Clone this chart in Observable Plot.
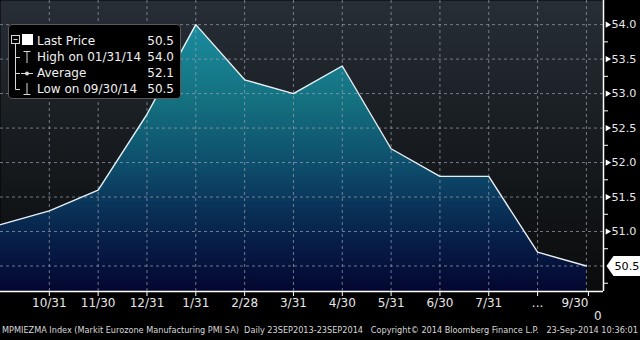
<!DOCTYPE html>
<html>
<head>
<meta charset="utf-8">
<script src="https://cdn.jsdelivr.net/npm/d3@7"></script>
<script src="https://cdn.jsdelivr.net/npm/@observablehq/plot@0.6"></script>
<style>
  html, body { margin: 0; padding: 0; background: #000; }
  body { width: 640px; height: 340px; position: relative; overflow: hidden; font-family: "DejaVu Sans", sans-serif; }
  #chart svg { display: block; }
  #legend { position: absolute; left: 8px; top: 24px; width: 173px; height: 75px; background: #000; border: 1px solid #5a5a5a; border-radius: 4px; box-sizing: border-box; color: #f0f0f0; font-size: 12px; }
  #legend .row { position: absolute; left: 28px; right: 6px; height: 16px; line-height: 16px; }
  #legend .row .v { position: absolute; right: 0; top: 0; }
  #legend svg.icons { position: absolute; left: 0; top: 0; }
  #footer { position: absolute; left: 2px; top: 325px; white-space: pre; color: #d8d8d8; font-size: 8.8px; font-family: "DejaVu Sans Condensed", "DejaVu Sans", sans-serif; transform-origin: 0 0; }
  #zero { position: absolute; left: 594px; top: 309px; color: #e0e0e0; font-size: 12px; }
</style>
</head>
<body>
<div id="chart"></div>
<div id="legend"></div>
<div id="zero">0</div>
<div id="footer"></div>
<script>
// ---- data ----
const months = ["9/30", "10/31", "11/30", "12/31", "1/31", "2/28", "3/31", "4/30", "5/31", "6/30", "7/31", "8/31", "9/30"];
const tickLabels = ["10/31", "11/30", "12/31", "1/31", "2/28", "3/31", "4/30", "5/31", "6/30", "7/31", "...", "9/30"];
const values = [51.1, 51.3, 51.6, 52.7, 54.0, 53.2, 53.0, 53.4, 52.2, 51.8, 51.8, 50.7, 50.5];
const majorTicks = [50.5, 51.0, 51.5, 52.0, 52.5, 53.0, 53.5, 54.0];
const minorTicks = [50.25, 50.75, 51.25, 51.75, 52.25, 52.75, 53.25, 53.75];
const legendLabels = ["Last Price", "High on 01/31/14", "Average", "Low on 09/30/14"];
const legendValues = ["50.5", "54.0", "52.1", "50.5"];
const lastPrice = 50.5;
const footerText = "MPMIEZMA Index (Markit Eurozone Manufacturing PMI SA)  Daily 23SEP2013-23SEP2014   Copyright\u00a9 2014 Bloomberg Finance L.P.   23-Sep-2014 10:36:01";

const data = values.map((v, i) => ({i, month: months[i], v}));
const tickIdx = tickLabels.map((_, k) => k + 1);
const lastIdx = tickIdx[tickIdx.length - 1];
const yDomain = [50.13, 54.35];
const labeledMajor = majorTicks.filter((d) => d !== lastPrice);

const boxSymbol = {
  draw(ctx) {
    ctx.moveTo(0, 0); ctx.lineTo(7, -10); ctx.lineTo(34, -10); ctx.lineTo(34, 10); ctx.lineTo(7, 10); ctx.closePath();
  }
};

const plot = Plot.plot({
  width: 640,
  height: 322,
  marginTop: 0,
  marginLeft: 0,
  marginRight: 37,
  marginBottom: 31,
  style: {background: "#000", fontFamily: "DejaVu Sans, sans-serif", fontSize: "12px", color: "#e0e0e0"},
  x: {type: "linear", domain: [0, 12.35], axis: null},
  y: {domain: yDomain, axis: null},
  marks: [
    Plot.frame({fill: "url(#bgGrad)", stroke: null}),
    Plot.areaY(data, {x: "i", y1: yDomain[0], y2: "v", fill: "url(#areaGrad)"}),
    Plot.gridX(tickIdx, {stroke: "#9aa3b0", strokeOpacity: 0.7, strokeDasharray: "3,3"}),
    Plot.gridY(majorTicks, {stroke: "#9aa3b0", strokeOpacity: 0.7, strokeDasharray: "3,3"}),
    Plot.lineY(data, {x: "i", y: "v", stroke: "#e8eef2", strokeWidth: 1.4}),
    Plot.axisX(tickIdx.filter((d) => d !== lastIdx), {anchor: "bottom", tickSize: 5, tickFormat: (d) => tickLabels[d - 1], stroke: "#fff", fill: "#e6e6e6", tickPadding: 2, label: null}),
    Plot.axisX([lastIdx], {anchor: "bottom", tickSize: 5, tickFormat: (d) => tickLabels[d - 1], stroke: "#fff", fill: "#e6e6e6", tickPadding: 2, textAnchor: "end", dx: 2, label: null}),
    Plot.ruleY([yDomain[0]], {stroke: "#fff", strokeWidth: 1.5}),
    Plot.ruleX([12.35], {stroke: "#fff", strokeWidth: 1.5}),
    Plot.axisY(minorTicks, {anchor: "right", tickSize: 4, tickFormat: () => "", stroke: "#fff", label: null}),
    Plot.axisY(labeledMajor, {anchor: "right", tickSize: 0, tickPadding: 8, tickFormat: (d) => d.toFixed(1), fill: "#e6e6e6", fontSize: 11.2, label: null}),
    Plot.dot(labeledMajor, {y: (d) => d, frameAnchor: "right", symbol: "triangle", rotate: 90, r: 2.3, dx: 4, fill: "#fff", stroke: null}),
    Plot.dot([lastPrice], {y: (d) => d, frameAnchor: "right", symbol: boxSymbol, dx: 3, fill: "#fff", stroke: null}),
    Plot.text([lastPrice], {y: (d) => d, text: (d) => d.toFixed(1), frameAnchor: "right", textAnchor: "start", dx: 11, fontSize: 11.2, fill: "#000"})
  ]
});

// gradients
const defs = `
<defs>
  <linearGradient id="bgGrad" gradientUnits="userSpaceOnUse" x1="0" y1="0" x2="0" y2="291">
    <stop offset="0" stop-color="#272e36"/>
    <stop offset="0.5" stop-color="#171b1f"/>
    <stop offset="1" stop-color="#0a0b0c"/>
  </linearGradient>
  <linearGradient id="areaGrad" gradientUnits="userSpaceOnUse" x1="0" y1="20" x2="0" y2="291">
    <stop offset="0" stop-color="#1a8ea0"/>
    <stop offset="0.3" stop-color="#14707f"/>
    <stop offset="0.55" stop-color="#0d4b6a"/>
    <stop offset="0.8" stop-color="#07204a"/>
    <stop offset="1" stop-color="#040630"/>
  </linearGradient>
</defs>`;
plot.insertAdjacentHTML("afterbegin", defs);
document.getElementById("chart").appendChild(plot);

// legend
const leg = document.getElementById("legend");
const rowTops = [8, 24, 40, 56];
let html = `<svg class="icons" width="30" height="75">
  <g stroke="#d8d8d8" fill="none" stroke-width="1">
    <rect x="2.5" y="10.5" width="8" height="8"/>
    <line x1="4.5" y1="14.5" x2="8.5" y2="14.5"/>
    <line x1="6.5" y1="18.5" x2="6.5" y2="64.5"/>
    <line x1="6.5" y1="32.5" x2="11" y2="32.5"/>
    <line x1="6.5" y1="48.5" x2="11" y2="48.5"/>
    <line x1="6.5" y1="64.5" x2="11" y2="64.5"/>
    <line x1="14.5" y1="26.5" x2="21.5" y2="26.5"/>
    <line x1="18" y1="26.5" x2="18" y2="38"/>
    <line x1="12" y1="48.5" x2="24" y2="48.5"/>
    <line x1="18" y1="58" x2="18" y2="69.5"/>
    <line x1="14.5" y1="69.5" x2="21.5" y2="69.5"/>
  </g>
  <circle cx="18" cy="48.5" r="2" fill="#d8d8d8"/>
  <rect x="13" y="9" width="11" height="11" fill="#fff"/>
</svg>`;
legendLabels.forEach((t, k) => {
  html += `<div class="row" style="top:${rowTops[k]}px"><span>${t}</span><span class="v">${legendValues[k]}</span></div>`;
});
leg.innerHTML = html;

// footer
const f = document.getElementById("footer");
f.textContent = footerText;
const w = f.getBoundingClientRect().width;
f.style.transform = `scaleX(${636 / w})`;
</script>
</body>
</html>
